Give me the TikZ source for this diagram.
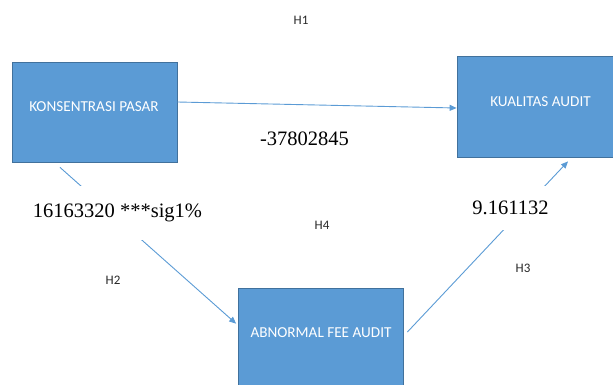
\documentclass[tikz,border=0pt]{standalone}
\usepackage{fontspec}
\setsansfont{Carlito}
\newfontfamily\numfont{Liberation Serif}
\usepackage{xcolor}
\usepackage{tikz}
\usetikzlibrary{arrows.meta, positioning, calc}
\definecolor{boxblue}{RGB}{91,155,213}
\definecolor{boxedge}{RGB}{65,113,156}
\definecolor{lineblue}{RGB}{91,155,213}
\definecolor{labdark}{RGB}{40,40,40}
\tikzset{
  varbox/.style={rectangle, draw=boxedge, fill=boxblue, line width=0.8pt},
  vartext/.style={text=white, font=\sffamily\fontsize{15.2}{17}\selectfont},
  hlabel/.style={font=\sffamily\fontsize{13}{15}\selectfont, color=labdark},
  coef/.style={fill=white, font=\numfont\fontsize{20.5}{24}\selectfont, text=black},
  link/.style={-{Triangle[length=7pt,width=6pt]}, line width=0.9pt, color=lineblue}
}
\begin{document}
\begin{tikzpicture}[x=1pt, y=-1pt]
  \useasboundingbox (0,0) rectangle (613,385);

  % Variables
  \node[varbox, minimum width=165pt, minimum height=100pt] (kp) at (94.5,112) {};
  \node[vartext] (kpt) at (94,107) {KONSENTRASI PASAR};
  \node[varbox, minimum width=158pt, minimum height=101pt] (ka) at (536,106.5) {};
  \node[vartext] (kat) at (540.5,102) {KUALITAS AUDIT};
  \node[varbox, minimum width=165pt, minimum height=110pt] (af) at (320.5,343) {};
  \node[vartext] (aft) at (321,333) {ABNORMAL FEE AUDIT};

  % H1
  \draw[link] ([yshift=10pt]kp.east) -- ([yshift=-1.5pt]ka.west);
  \node[hlabel] (h1) at (301,20) {H1};
  \node[coef] (c1) at (304.5,139) {-37802845};

  % H2
  \draw[link, shorten >=2pt] ([xshift=-34.5pt, yshift=-5pt]kp.south) -- ([yshift=18pt]af.west);
  \node[coef, minimum width=190pt, minimum height=54pt] (c2) at (117.5,213) {16163320 ***sig1\%};
  \node[hlabel] (h2) at (113,280) {H2};

  % H3
  \draw[link] ([xshift=4pt, yshift=11pt]af.east) -- ([xshift=32pt, yshift=-4pt]ka.south);
  \node[coef, minimum width=90pt, minimum height=44pt] (c3) at (510.5,208) {9.161132};
  \node[hlabel] (h3) at (523,268) {H3};

  % H4
  \node[hlabel] (h4) at (322,225) {H4};
\end{tikzpicture}
\end{document}
